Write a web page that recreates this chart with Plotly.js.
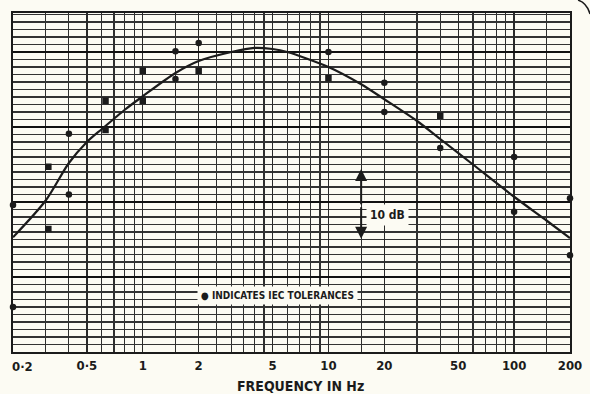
<!DOCTYPE html>
<html>
<head>
<meta charset="utf-8">
<script src="https://cdn.plot.ly/plotly-3.0.1.min.js"></script>
<style>
  html, body { margin: 0; padding: 0; background: #fcfbf3; }
  #chart { width: 590px; height: 394px; }
</style>
</head>
<body>
<div id="chart"></div>
<script>
// Weighting curve (frequency in Hz, relative level in dB)
const curveFreq = [0.2, 0.3, 0.4, 0.5, 0.6, 0.7, 0.8, 1, 1.5, 2, 3, 4, 5, 6, 10, 15, 20, 30, 40, 60, 100, 150, 200];
const curveDb   = [-24.7, -19.8, -14.8, -12.0, -10.3, -8.9, -7.7, -5.9, -2.8, -1.2, 0.0, 0.55, 0.4, 0.0, -2.0, -4.3, -6.3, -9.2, -11.6, -15.0, -19.3, -22.5, -24.8];

// IEC tolerance points
const tolFreq = [0.2, 0.2, 0.31, 0.31, 0.4, 0.4, 0.63, 0.63, 1, 1, 1.5, 1.5, 2, 2, 10, 10, 20, 20, 40, 40, 100, 100, 200, 200];
const tolDb   = [-20.4, -34.0, -15.3, -23.6, -10.9, -19.0, -6.5, -10.4, -2.5, -6.5, 0.1, -3.6, 1.2, -2.5, 0.0, -3.5, -4.1, -8.0, -8.5, -12.8, -14.0, -21.3, -19.5, -27.1];
const tolSymbol = ['circle','circle','square','square','circle','circle','square','square','square','square','circle','circle','circle','square','circle','square','circle','circle','square','circle','circle','circle','circle','circle'];

// Axis ticks (the first label, at the left edge, is drawn left-aligned)
const xTickVals = [0.2, 0.5, 1, 2, 5, 10, 20, 50, 100, 200];
const xTickText = ['0·2', '0·5', '1', '2', '5', '10', '20', '50', '100', '200'];
const xMinorVals = [0.3, 0.4, 0.6, 0.7, 0.8, 0.9, 1.5, 2.5, 3, 3.5, 4, 4.5, 6, 7, 8, 9, 15, 30, 40, 60, 70, 80, 90, 150];

const ink = '#1b1b1b';
const paperBg = '#fcfbf3';
const font = 'DejaVu Sans Condensed, Liberation Sans Narrow, sans-serif';
const tickFont = { family: font, size: 13, color: ink, weight: 'bold' };

const traces = [
  {
    x: curveFreq, y: curveDb, type: 'scatter', mode: 'lines',
    line: { color: ink, width: 2.2, shape: 'spline', smoothing: 0.8 },
    hoverinfo: 'skip', showlegend: false
  },
  {
    x: tolFreq, y: tolDb, type: 'scatter', mode: 'markers',
    marker: { color: ink, size: 6.5, symbol: tolSymbol },
    cliponaxis: false, showlegend: false
  }
];

const layout = {
  width: 590, height: 394,
  margin: { l: 13, r: 20, t: 13, b: 42 },
  paper_bgcolor: paperBg, plot_bgcolor: paperBg,
  showlegend: false,
  xaxis: {
    type: 'log',
    range: [Math.log10(0.2), Math.log10(200)],
    tickmode: 'array', tickvals: xTickVals,
    ticktext: xTickText.map((t, i) => i === 0 ? '' : t),
    ticks: '', showgrid: true, gridcolor: '#2a2a2a', gridwidth: 1.3,
    minor: { tickmode: 'array', tickvals: xMinorVals, showgrid: true, gridcolor: '#2f2f2f', gridwidth: 1.2, ticks: '' },
    showline: true, linecolor: ink, linewidth: 2, mirror: true,
    zeroline: false,
    tickfont: tickFont,
    fixedrange: true
  },
  yaxis: {
    range: [-40, 5.2],
    tickmode: 'linear', tick0: 0, dtick: 10,
    showticklabels: false, ticks: '',
    showgrid: true, gridcolor: '#111', gridwidth: 1.8,
    minor: { tickmode: 'linear', tick0: 0, dtick: 1, showgrid: true, gridcolor: '#333', gridwidth: 1.2, ticks: '' },
    showline: true, linecolor: ink, linewidth: 2, mirror: true,
    zeroline: false, fixedrange: true
  },
  annotations: [
    { x: Math.log10(xTickVals[0]), y: -0.0413, xref: 'x', yref: 'paper', xanchor: 'left', yanchor: 'middle',
      xshift: -3, text: xTickText[0], showarrow: false, font: tickFont },
    { x: Math.log10(15), y: -15.6, ax: Math.log10(15), ay: -20.5, xref: 'x', yref: 'y', axref: 'x', ayref: 'y',
      text: '', showarrow: true, arrowhead: 2, arrowsize: 1.2, arrowwidth: 2, arrowcolor: ink },
    { x: Math.log10(15), y: -24.9, ax: Math.log10(15), ay: -20.5, xref: 'x', yref: 'y', axref: 'x', ayref: 'y',
      text: '', showarrow: true, arrowhead: 2, arrowsize: 1.2, arrowwidth: 2, arrowcolor: ink },
    { x: Math.log10(16.0), y: -21.7, xref: 'x', yref: 'y', xanchor: 'left', yanchor: 'middle',
      text: '10 dB', showarrow: false, bgcolor: paperBg, borderpad: 3,
      font: { family: font, size: 12, color: ink, weight: 'bold' } },
    { x: Math.log10(1.97), y: -32.4, xref: 'x', yref: 'y', xanchor: 'left', yanchor: 'middle',
      text: '● INDICATES IEC TOLERANCES', showarrow: false, bgcolor: paperBg, borderpad: 3,
      font: { family: font, size: 10, color: ink, weight: 'bold' } },
    { x: (300 - 13) / 557, y: -0.1, xref: 'paper', yref: 'paper', xanchor: 'center', yanchor: 'middle',
      text: 'FREQUENCY IN Hz', showarrow: false,
      font: { family: font, size: 14, color: ink, weight: 'bold' } }
  ],
  shapes: [
    { type: 'path', xref: 'paper', yref: 'paper', path: 'M 1.0144 1.038 Q 1.03 1.03 1.036 0.997',
      line: { color: ink, width: 1.5 } }
  ]
};

Plotly.newPlot('chart', traces, layout, { displayModeBar: false, staticPlot: true });
</script>
</body>
</html>
